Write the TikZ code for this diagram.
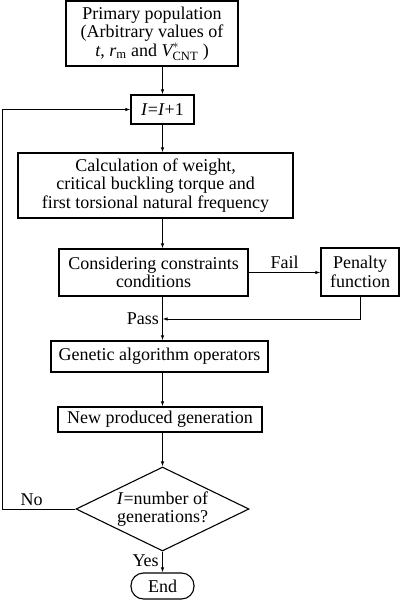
\documentclass[tikz,border=0pt]{standalone}
\usepackage{amsmath}
\usepackage{fontspec}
\setmainfont{Liberation Serif}
\usetikzlibrary{shapes.geometric,arrows.meta}

\begin{document}
\begin{tikzpicture}[x=1pt,y=-1pt,>={Latex[length=5pt,width=3.5pt]},
  box/.style={draw,line width=1.2pt,align=center,inner sep=0pt,font=\fontsize{18}{18.5}\selectfont},
  decision/.style={diamond,draw,line width=1.1pt,align=center,inner sep=0pt,aspect=2.06,font=\fontsize{18}{18.5}\selectfont},
  term/.style={draw,line width=1.1pt,rounded corners=12.5pt,inner sep=0pt,font=\fontsize{18}{18.5}\selectfont},
  lbl/.style={font=\fontsize{18}{18.5}\selectfont},
  flow/.style={line width=0.9pt,->}]
\useasboundingbox (0,0) rectangle (400,601);

\node[box,minimum width=172,minimum height=65] (pop) at (152,33.5)
  {Primary population\\(Arbitrary values of\\$\textit{t}$, $\textit{r}_{\text{m}}$ and $\textit{V}^{*}_{\text{CNT}}$ )};
\node[box,minimum width=63,minimum height=29] (inc) at (162.5,109.5) {\textit{I}=\textit{I}+1};
\node[box,minimum width=275,minimum height=65] (calc) at (155.5,185.5)
  {Calculation of weight,\\critical buckling torque and\\first torsional natural frequency};
\node[box,minimum width=189,minimum height=47] (cons) at (153.5,272.5)
  {Considering constraints\\conditions};
\node[box,minimum width=78,minimum height=48] (pen) at (360,272) {Penalty\\function};
\node[box,minimum width=217,minimum height=31] (gen) at (159.5,356.5) {Genetic algorithm operators};
\node[box,minimum width=204,minimum height=25] (newg) at (160,419.5) {New produced generation};
\node[decision,minimum width=173,minimum height=84] (dec) at (162.5,509)
  {\textit{I}=number of\\generations?};
\node[term,minimum width=63,minimum height=26] (fin) at (162.5,586) {End};
\coordinate (join) at (162.5,319);

\draw[flow] (pop.south -| inc.north) -- (inc.north);
\draw[flow] (inc.south) -- (inc.south |- calc.north);
\draw[flow] (calc.south -| inc.south) -- (cons.north -| inc.south);
\draw[flow] (cons.east) -- node[lbl,above] {Fail} (cons.east -| pen.west);
\draw[flow] (pen.south) |- (join);
\draw[flow] (cons.south -| inc.south) -- (gen.north -| inc.south);
\draw[flow] (gen.south -| inc.south) -- (newg.north -| inc.south);
\draw[flow] (newg.south -| inc.south) -- (dec.north);
\draw[flow] (dec.west) -- node[lbl,above,pos=0.6] {No} ++(-73,0) |- (inc.west);
\draw[flow] (dec.south) -- node[lbl,left,pos=0.45] {Yes} (fin.north);

%Labeling points
\node[lbl,left] at (join) {Pass};
\end{tikzpicture}
\end{document}
